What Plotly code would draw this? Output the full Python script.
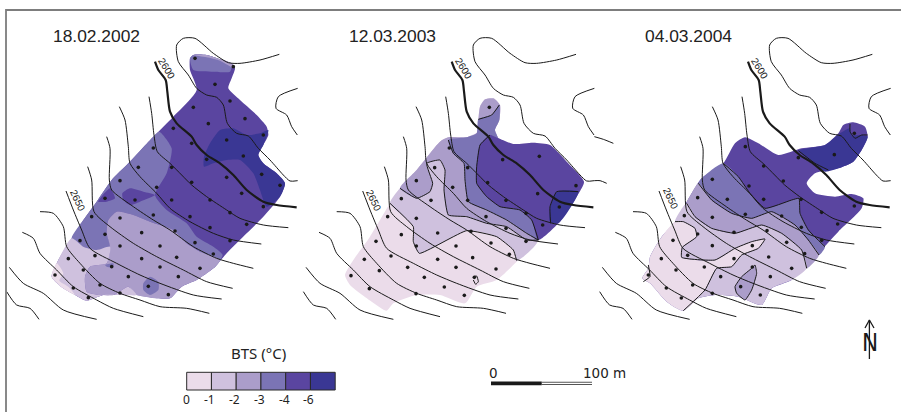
import plotly.graph_objects as go

# ---- data (crop coordinates: 3x zoom of each panel) ----
LEVEL_COLORS = ["#ebdcea", "#cfc1de", "#ab9dca", "#7b74b5", "#5a45a0", "#3a3794"]
LEVEL_LABELS = ["0", "-1", "-2", "-3", "-4", "-6"]
DATES = ["18.02.2002", "12.03.2003", "04.03.2004"]

C2600 = [(465,125),(475,150),(497,180),(502,215),(510,275),(530,310),(575,350),(590,375),(620,405),(660,430),(700,465),(740,510),(790,545),(830,555),(890,562)]
C_LOOP = [(838,103),(780,120),(720,130),(685,128),(640,100),(585,55),(550,55),(530,75),(535,125),(565,165),(590,205),(620,225),(650,232),(670,255),(682,310),(710,340),(745,348),(775,385),(810,420),(850,465),(870,483),(893,482)]
C_RIGHT = [(893,205),(835,230),(828,265),(860,285),(875,320),(892,345)]
C_L1 = [(447,230),(455,280),(462,345),(472,395),(510,430),(545,465),(575,495),(620,530),(680,570),(720,595),(790,615),(865,623)]
C_L2 = [(358,260),(375,300),(385,380),(390,430),(420,470),(470,520),(510,565),(570,605),(640,640),(700,660),(784,672)]
C_L3 = [(320,350),(330,385),(328,480),(335,510),(400,560),(460,600),(510,630),(580,680),(650,715),(700,730),(760,745)]
C_L4 = [(263,440),(275,480),(282,575),(330,620),(400,670),(470,710),(550,750),(620,785),(698,805)]
C_2650 = [(198,513),(220,570),(245,630),(270,685),(350,730),(420,765),(480,790),(580,825),(665,837)]
C_L6 = [(120,575),(160,580),(190,620),(200,680),(240,730),(300,790),(360,820),(420,840),(480,860),(560,865),(628,880)]
C_L7 = [(67,637),(100,655),(120,700),(170,750),(220,800),(290,840),(340,865),(430,890)]
C_L8 = [(28,742),(70,790),(130,820),(190,870),(290,898)]
C_L9 = [(20,815),(50,855),(90,865),(117,898)]
THIN_CONTOURS = [C_LOOP, C_RIGHT, C_L1, C_L2, C_L3, C_L4, C_2650, C_L6, C_L7, C_L8, C_L9]

P1_OUT = [(570,115),(580,105),(620,105),(660,118),(695,130),(705,145),(695,175),(685,205),(720,240),(770,285),(800,320),(805,345),(790,375),(775,405),(790,430),(830,460),(855,490),(840,530),(790,590),(740,640),(680,700),(640,745),(590,780),(545,800),(510,835),(470,835),(410,825),(370,825),(310,825),(260,842),(225,825),(190,805),(155,770),(175,720),(215,655),(250,600),(290,545),(335,480),(385,430),(460,350),(520,290),(590,210),(570,150)]
P1_FILLS = [
    (5, [(612,410),(630,370),(660,330),(700,325),(740,345),(780,340),(805,330),(790,375),(775,405),(790,430),(830,460),(855,490),(840,530),(800,560),(780,510),(760,460),(720,420),(680,420),(640,430),(612,440)]),
    (3, [(570,115),(580,105),(620,105),(660,118),(695,135),(690,155),(640,155),(580,150)]),
    (2, [(580,105),(620,105),(660,118),(695,130),(703,145),(660,122),(620,112)]),
    (3, [(215,655),(250,600),(290,545),(335,480),(385,430),(460,350),(478,335),(515,385),(500,460),(465,525),(500,570),(560,610),(590,650),(640,680),(668,705),(640,745),(600,695),(560,670),(520,630),(450,605),(400,585),(350,575),(325,600),(320,640),(330,680),(290,690),(250,680)]),
    (4, [(295,545),(330,505),(345,535),(320,545)]),
    (4, [(367,520),(390,505),(430,515),(465,525),(420,545),(390,555),(370,540)]),
    (2, [(325,600),(350,575),(400,585),(450,605),(520,630),(560,670),(600,695),(660,720),(640,745),(590,780),(545,800),(510,835),(470,835),(410,825),(385,800),(340,825),(300,825),(260,815),(255,770),(270,740),(320,730),(330,680),(320,640)]),
    (3, [(430,790),(450,770),(475,785),(475,810),(450,825),(430,810)]),
    (3, [(315,735),(340,730),(340,742),(320,740)]),
    (1, [(215,655),(250,680),(290,690),(330,680),(320,730),(270,740),(255,770),(260,815),(300,825),(340,825),(385,800),(410,825),(370,825),(310,825),(260,842),(225,825),(190,805),(155,770),(175,720)]),
    (0, [(155,770),(170,730),(190,760),(178,782),(205,800),(225,825),(190,805)]),
]
P1_POINTS = [(585,115),(700,140),(645,193),(690,243),(580,262),(735,296),(625,311),(520,325),(790,345),(680,360),(575,370),(460,384),(730,408),(620,418),(415,442),(515,442),(785,463),(680,472),(360,482),(575,487),(840,496),(470,502),(725,520),(315,535),(405,540),(515,540),(630,540),(790,560),(690,578),(460,585),(275,590),(570,590),(360,594),(740,613),(630,623),(525,633),(425,638),(315,643),(690,662),(240,662),(585,668),(360,678),(480,678),(640,702),(285,707),(205,716),(425,716),(530,712),(335,740),(480,741),(600,745),(250,750),(165,765),(385,770),(535,770),(300,795),(445,799),(220,804),(360,819),(505,824),(265,833)]

P2_OUT = [(540,260),(555,238),(580,235),(600,255),(598,300),(585,330),(595,355),(640,372),(700,368),(750,375),(800,425),(852,485),(830,530),(775,610),(715,660),(650,725),(590,780),(530,800),(495,850),(420,825),(350,825),(280,850),(260,872),(215,845),(150,795),(135,765),(160,720),(210,650),(270,550),(300,505),(350,450),(420,365),(445,352),(500,352),(530,340),(535,300)]
P2_B1 = [(270,550),(340,620),(340,665),(358,700),(500,632),(590,650),(640,690),(650,722)]
P2_B2 = [(300,505),(350,535),(390,515),(398,490),(380,430),(420,420),(435,450),(432,510),(445,585),(500,590),(560,610),(620,620),(680,660),(715,660)]
P2_B3 = [(445,360),(460,400),(492,430),(495,480),(505,545),(560,570),(620,600),(680,640),(715,660)]
P2_B4 = [(570,345),(540,375),(530,440),(530,490),(560,530),(600,560),(660,570),(695,600),(715,660)]
P2_B5 = [(835,515),(770,515),(750,560),(752,610)]
P2_CAP = [(535,298),(575,285),(598,255)]
P2_SPOT = [(520,770),(530,768),(535,785),(527,793),(520,780)]
P2_FILLS = [
    (1, [(270,550),(300,505),(350,450),(420,365),(445,352),(500,352),(530,340),(570,345),(715,660),(650,722),(640,690),(590,650),(500,632),(358,700),(340,665),(340,620)]),
    (2, [(300,505),(350,450),(420,365),(445,352),(500,352),(530,340),(535,300),(540,260),(555,238),(580,235),(600,255),(598,300),(585,330),(595,355),(715,660),(680,660),(620,620),(560,610),(500,590),(445,585),(432,510),(435,450),(420,420),(380,430),(398,490),(390,515),(350,535)]),
    (3, [(445,360),(500,352),(530,340),(535,298),(575,285),(598,255),(598,300),(585,330),(595,355),(715,660),(680,640),(620,600),(560,570),(505,545),(495,480),(492,430),(460,400)]),
    (4, [(570,345),(595,355),(640,372),(700,368),(750,375),(800,425),(852,485),(830,530),(775,610),(715,660),(695,600),(660,570),(600,560),(560,530),(530,490),(530,440),(540,375)]),
    (5, [(770,515),(835,515),(775,610),(750,606),(750,560)]),
]
P2_LINES = [P2_B1, P2_B2, P2_B3, P2_B4, P2_B5, P2_CAP, P2_SPOT]
P2_POINTS = [(568,262),(448,384),(718,409),(608,419),(404,443),(503,443),(563,488),(349,482),(828,497),(458,502),(713,521),(304,536),(393,541),(503,541),(618,541),(778,561),(678,580),(558,590),(263,590),(349,595),(728,615),(618,625),(513,634),(413,639),(304,644),(678,664),(228,664),(573,669),(349,678),(468,678),(628,703),(273,708),(193,718),(413,718),(518,713),(323,742),(468,742),(588,747),(238,752),(153,767),(373,772),(523,772),(433,801),(208,806),(348,821),(493,826)]

P3_OUT = [(730,340),(745,315),(775,307),(810,320),(818,350),(800,390),(775,425),(730,445),(660,460),(635,490),(660,520),(720,530),(770,522),(805,535),(800,565),(730,635),(670,700),(590,780),(530,805),(500,855),(430,830),(360,825),(310,835),(265,872),(215,845),(165,790),(142,775),(160,745),(165,710),(200,650),(240,605),(290,520),(320,475),(385,430),(420,370),(450,352),(490,370),(550,405),(620,385),(690,375)]
P3_B12 = [(275,550),(300,590),(350,625),(420,640),(500,615),(560,640),(620,690),(635,745)]
P3_B23 = [(310,490),(350,540),(410,580),(470,595),(530,575),(600,615),(640,660),(672,705)]
P3_B34 = [(385,430),(430,470),(465,520),(510,565),(590,540),(612,535),(615,580),(640,630),(690,680)]
P3_B01 = [(240,605),(265,605),(300,625),(305,650),(262,682),(260,712),(360,720),(420,685),(470,665),(510,657),(490,685),(440,705),(410,740),(365,745),(330,810),(265,872)]
P3_B45 = [(610,392),(660,430),(700,450)]
P3_B56 = [(765,312),(765,335),(780,355),(800,345),(818,345)]
P3_BLOB = [(480,735),(485,760),(470,810),(450,840),(425,820),(420,800),(440,770),(470,745),(480,735)]
P3_NICK = [(160,735),(165,770),(145,785)]
P3_FILLS = [
    (5, [(610,392),(690,375),(735,340),(765,325),(770,345),(800,345),(818,350),(800,390),(775,425),(730,445),(690,455),(660,430),(630,410)]),
    (3, [(320,475),(385,430),(430,470),(465,520),(510,565),(590,540),(612,535),(615,580),(640,630),(690,680),(672,705),(640,660),(600,615),(530,575),(470,595),(410,580),(350,540),(310,490)]),
    (2, [(290,520),(310,490),(350,540),(410,580),(470,595),(530,575),(600,615),(640,660),(672,705),(635,745),(620,690),(560,640),(500,615),(420,640),(350,625),(300,590),(275,550)]),
    (1, [(240,605),(265,605),(300,625),(305,650),(262,682),(260,712),(360,720),(420,685),(470,665),(510,657),(490,685),(440,705),(410,740),(365,745),(330,810),(265,872),(310,835),(360,825),(430,830),(500,855),(530,805),(590,780),(635,745),(620,690),(560,640),(500,615),(420,640),(350,625),(300,590),(275,550)]),
    (2, P3_BLOB),
    (0, [(240,605),(265,605),(300,625),(305,650),(262,682),(260,712),(360,720),(420,685),(470,665),(510,657),(490,685),(440,705),(410,740),(365,745),(330,810),(265,872),(215,845),(165,790),(142,775),(160,745),(165,710),(200,650)]),
]
P3_LINES = [P3_B12, P3_B23, P3_B34, P3_B01, P3_B45, P3_B56, P3_BLOB, P3_NICK]
P3_POINTS = [(778,340),(451,380),(718,404),(610,413),(506,438),(352,478),(565,483),(462,498),(308,533),(397,538),(506,538),(618,538),(778,558),(680,577),(451,583),(352,592),(268,587),(560,588),(728,612),(619,622),(516,632),(417,637),(308,642),(680,661),(234,661),(575,667),(352,677),(472,677),(629,701),(278,706),(199,716),(417,716),(521,711),(328,741),(472,741),(590,745),(243,750),(160,765),(377,770),(526,770),(293,795),(437,800),(214,804),(352,820),(496,825),(259,834)]

EXTRA_R = [(893,350),(920,358),(950,370)]
EXTRA_L = [(893,482),(910,482),(930,490)]

# ---- placement ----
CROP_X = [0, 300, 595]
CONTOUR_X = [0, 296.7, 593]
CROP_Y = 20

def px(pts, ox):
    return [ox + p[0] / 3 for p in pts], [CROP_Y + p[1] / 3 for p in pts]

fig = go.Figure()

def add_fill(pts, ox, color):
    x, y = px(pts + pts[:1], ox)
    fig.add_trace(go.Scatter(x=x, y=y, mode="lines", fill="toself", fillcolor=color,
                             line=dict(color=color, width=0, shape="spline", smoothing=0.6),
                             hoverinfo="skip", showlegend=False))

def add_line(pts, ox, width=1.0, smooth=0.7):
    x, y = px(pts, ox)
    fig.add_trace(go.Scatter(x=x, y=y, mode="lines",
                             line=dict(color="#1a1a1a", width=width, shape="spline", smoothing=smooth),
                             hoverinfo="skip", showlegend=False))

panels = [(P1_OUT, 4, P1_FILLS, [], P1_POINTS),
          (P2_OUT, 0, P2_FILLS, P2_LINES, P2_POINTS),
          (P3_OUT, 4, P3_FILLS, P3_LINES, P3_POINTS)]

for i, (outline, base, fills, lines, points) in enumerate(panels):
    ox = CROP_X[i]
    cx = CONTOUR_X[i]
    add_fill(outline, ox, LEVEL_COLORS[base])
    for lvl, poly in fills:
        add_fill(poly, ox, LEVEL_COLORS[lvl])
    for c in THIN_CONTOURS:
        add_line(c, cx, 1.0)
    add_line(C2600, cx, 2.2)
    if i == 1:
        add_line(EXTRA_R, cx, 1.0)
        add_line(EXTRA_L, cx, 1.0)
    for l in lines:
        add_line(l, ox, 1.0, 0.4)
    x, y = px(points, ox)
    fig.add_trace(go.Scatter(x=x, y=y, mode="markers", marker=dict(color="#1a1a1a", size=3.6),
                             hoverinfo="skip", showlegend=False))

# legend ramp
LEG_X0, LEG_W, LEG_Y0, LEG_H = 186.7, 24.75, 372.3, 17.7
fig.add_trace(go.Bar(x=[LEG_X0 + LEG_W * (k + 0.5) for k in range(6)], y=[LEG_H] * 6, base=LEG_Y0,
                     width=LEG_W, marker=dict(color=LEVEL_COLORS, line=dict(color="#2a2a2a", width=1)),
                     hoverinfo="skip", showlegend=False))

# scale bar
SB_X = [491, 541.7, 592]
SB_Y = 383.4
fig.add_trace(go.Scatter(x=SB_X[1:], y=[SB_Y] * 2, mode="lines", line=dict(color="#555555", width=3.4),
                         hoverinfo="skip", showlegend=False))
fig.add_trace(go.Scatter(x=SB_X[1:], y=[SB_Y] * 2, mode="lines", line=dict(color="#ffffff", width=1.4),
                         hoverinfo="skip", showlegend=False))
fig.add_trace(go.Scatter(x=SB_X[:2], y=[SB_Y] * 2, mode="lines", line=dict(color="#1a1a1a", width=3.6),
                         hoverinfo="skip", showlegend=False))

# north arrow
fig.add_trace(go.Scatter(x=[869.4, 869.4], y=[320, 359], mode="lines", line=dict(color="#1a1a1a", width=1.3),
                         hoverinfo="skip", showlegend=False))
fig.add_trace(go.Scatter(x=[865, 869.4, 874], y=[328, 320, 328], mode="lines", line=dict(color="#1a1a1a", width=1.3),
                         hoverinfo="skip", showlegend=False))
# frame
fig.add_trace(go.Scatter(x=[901, 6, 6], y=[10, 10, 412], mode="lines", line=dict(color="#7d7d7d", width=1.8),
                         hoverinfo="skip", showlegend=False))

def note(x, y, text, size, family="Liberation Sans", angle=0, color="#222222"):
    fig.add_annotation(x=x, y=y, text=text, showarrow=False, textangle=angle,
                       font=dict(size=size, family=family, color=color), xanchor="center", yanchor="middle")

for x, d in zip([96, 392, 688.5], DATES):
    note(x, 36, d, 17.4)
for x, y in [(167, 68), (464, 68), (760, 68)]:
    note(x, y, "2600", 10, angle=58)
for x, y in [(78, 200), (374, 200), (671, 198)]:
    note(x, y, "2650", 10, angle=65)
note(258, 353, "BTS (°C)", 15, "Noto Sans")
for k, lab in enumerate(LEVEL_LABELS):
    note(LEG_X0 + LEG_W * k - (1.5 if k else 0), 399.5, lab, 12, "Noto Sans")
note(493, 373, "0", 13.5, "DejaVu Sans")
note(604, 373, "100 m", 13.5, "DejaVu Sans")
note(869.5, 343, "N", 24, "DejaVu Sans Condensed", color="#1a1a1a")

fig.update_layout(width=901, height=412, margin=dict(l=0, r=0, t=0, b=0),
                  paper_bgcolor="white", plot_bgcolor="white", barmode="overlay",
                  xaxis=dict(range=[0, 901], visible=False, fixedrange=True),
                  yaxis=dict(range=[412, 0], visible=False, fixedrange=True))
fig.write_html("out.html", config={"displayModeBar": False},
               post_script="document.body.style.margin='0';document.body.style.overflow='hidden';")
